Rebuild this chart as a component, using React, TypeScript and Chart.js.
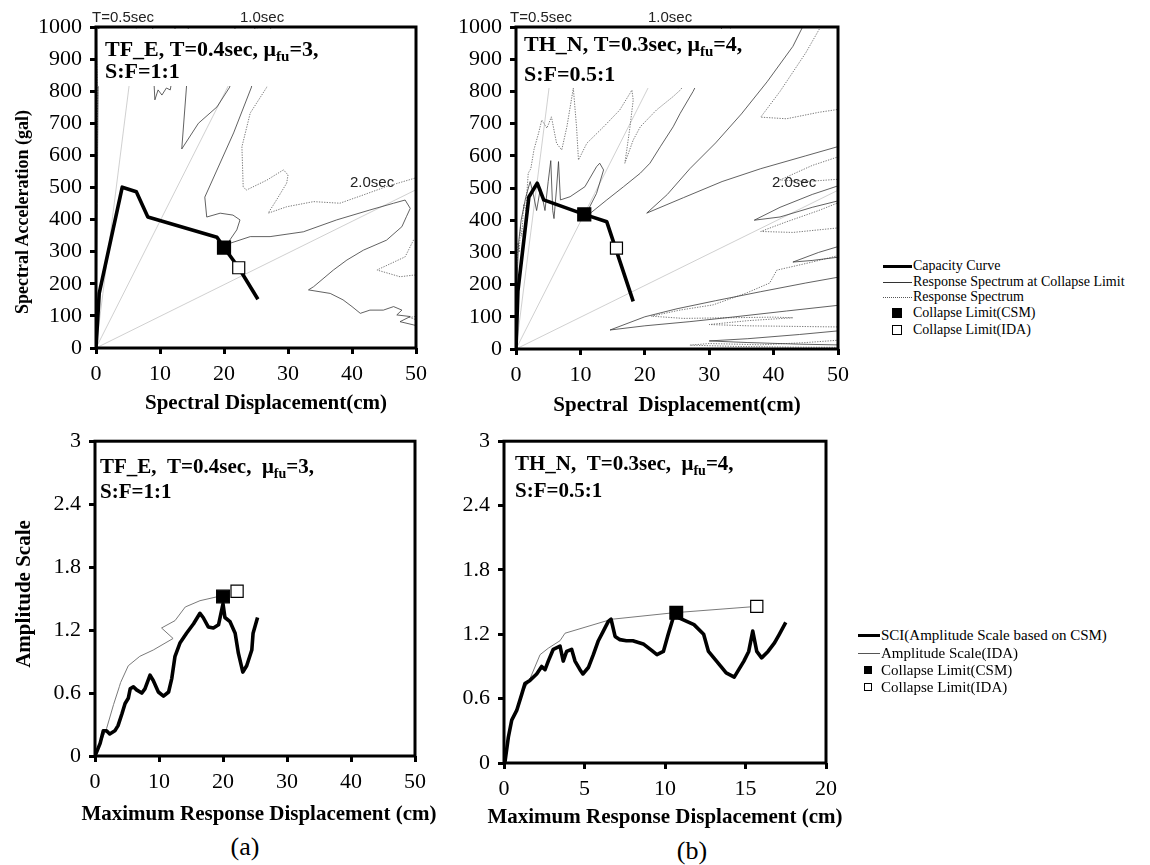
import React, { useEffect, useRef } from "react";
import { Chart, registerables } from "chart.js";
Chart.register(...registerables);

type Pt = [number, number];

// ---------------- tick labels ----------------
const xTicksTop = [0, 10, 20, 30, 40, 50];
const yTicksTop = [0, 100, 200, 300, 400, 500, 600, 700, 800, 900, 1000];
const xTicksBotA = [0, 10, 20, 30, 40, 50];
const xTicksBotB = [0, 5, 10, 15, 20];
const yTicksBot = [0, 0.6, 1.2, 1.8, 2.4, 3];
const yTickLabelsBot = ["0", "0.6", "1.2", "1.8", "2.4", "3"];

// ---------------- period reference lines (Sd cm, Sa gal) ----------------
const periodT05: Pt[] = [[0, 0], [6.33, 1000]];
const periodT10: Pt[] = [[0, 0], [25.3, 1000]];
const periodT20: Pt[] = [[0, 0], [50, 493]];

// ---------------- (a) TF_E  Sa-Sd ----------------
const capacityA: Pt[] = [[0, 0], [0.5, 170], [4.1, 501], [6.3, 487], [8.1, 408], [18.9, 345], [20.0, 313], [22.3, 250], [25.3, 152]];
const csmA: Pt[] = [[20.0, 313]];
const idaA: Pt[] = [[22.3, 250]];
const collapseSpecA: Pt[] = [
  [0.05, 150], [0.2, 450], [0.4, 1060], [8.8, 1060], [9.0, 850], [9.2, 773], [9.7, 804], [10.3, 788], [11.0, 810], [11.6, 804], [12.0, 850], [12.5, 1060],
  [14.5, 1060], [14.2, 830], [13.4, 620], [16.0, 700], [18.9, 751], [20.9, 813], [22, 1060], [25, 1060], [24.3, 813], [21.5, 670], [17.0, 470], [17.3, 408],
  [19.4, 420], [21.4, 414], [22.5, 399], [22.0, 368], [20.9, 336], [20.9, 326], [24.1, 347], [27.2, 347], [32.4, 362], [37.6, 399], [42.8, 430], [46.5, 451],
  [48.3, 461], [49.1, 435], [48.5, 409], [47.8, 378], [45.4, 336], [41.8, 305], [39.2, 274], [37.1, 243], [34.0, 191], [33.2, 181], [36.6, 170], [38.6, 150],
  [40.0, 129], [41.3, 108], [42.8, 118], [44.9, 118], [46.5, 129], [47.8, 118], [47.0, 103], [49.1, 98], [47.5, 82], [49.6, 72], [52, 60],
];
const responseSpecA: Pt[] = [
  [0.15, 590], [0.3, 850], [0.6, 1060], [27.5, 1060], [26.7, 813], [24.1, 732], [22.8, 627], [23.0, 502], [23.5, 492], [26.7, 523], [29.3, 555], [30.0, 539],
  [29.8, 514], [28.2, 461], [26.9, 420], [29.8, 440], [34.0, 456], [38.1, 451], [41.8, 477], [45.4, 503], [49.8, 529], [52, 540], [52, 345], [49.6, 336],
  [48.3, 284], [43.9, 243], [47.5, 222], [49.6, 227], [52, 228], [52, 105], [49, 95], [50.5, 85], [52, 84],
];

// ---------------- (b) TH_N  Sa-Sd ----------------
const capacityB: Pt[] = [[0, 0], [0.3, 180], [2.0, 472], [3.3, 515], [4.3, 463], [10.6, 418], [14.1, 395], [18.2, 148]];
const csmB: Pt[] = [[10.6, 418]];
const idaB: Pt[] = [[15.6, 313]];
const collapseSpecB: Pt[] = [
  [0.1, 180], [0.4, 330], [0.8, 400], [1.5, 470], [2.2, 520], [2.7, 480], [3.2, 430], [3.8, 500], [4.5, 430], [5.0, 520], [5.4, 585], [5.7, 430], [5.9, 405],
  [6.3, 500], [6.6, 582], [6.9, 463], [8.4, 473], [10.7, 504], [12.5, 566], [13.0, 577], [13.6, 556], [12.5, 483], [11.2, 432], [10.6, 418], [11.5, 421],
  [14.1, 463], [16.7, 504], [19.3, 546], [20.8, 577], [22.4, 628], [24.4, 690], [25.5, 732], [27.5, 800], [30, 900], [32, 1000], [33, 1060],
  [46, 1060], [43, 940], [39, 830], [35, 730], [31, 640], [27, 560], [23.5, 480], [20.3, 422], [26, 470], [32, 520], [38, 560], [45, 600], [52, 640],
  [52, 520], [46, 480], [41, 440], [37, 400], [41, 410], [46, 440], [52, 470],
  [52, 330], [47, 300], [43, 270], [46, 275], [52, 290],
  [52, 230], [45, 205], [38, 178], [31, 150], [25, 125], [20, 100], [14.6, 59], [20, 72], [27, 85], [34, 100], [42, 118], [52, 140],
  [52, 60], [44, 45], [36, 32], [30, 25], [36, 20], [44, 15], [52, 12],
];
const responseSpecB: Pt[] = [
  [0.1, 250], [0.3, 330], [0.5, 300], [0.7, 380], [0.9, 350], [1.2, 450], [1.5, 430], [1.9, 546], [2.3, 560], [2.8, 620], [3.5, 670], [4.0, 711], [4.8, 686],
  [5.5, 721], [6.3, 639], [7.1, 618], [7.9, 690], [8.9, 810], [9.4, 690], [9.7, 587], [11.0, 639], [13.6, 690], [16.1, 742], [18.0, 804], [18.2, 773],
  [17.7, 690], [17.2, 618], [16.9, 577], [18.2, 649], [19.3, 690], [21.8, 742], [24.4, 784], [25.5, 804], [28, 870], [31, 950], [33.5, 1000], [34.5, 1060],
  [49, 1060], [45, 920], [41, 800], [38, 720], [42, 715], [47, 735], [52, 750],
  [52, 610], [46, 570], [41, 525], [45, 520], [52, 530],
  [52, 470], [47, 430], [42, 395], [38, 365], [43, 362], [48, 372], [52, 380],
  [52, 300], [46, 270], [40.5, 245], [39.4, 205], [35.8, 174], [30.6, 137], [25.5, 121], [21, 102], [26, 95], [33, 97], [40, 99], [43, 97], [36, 88],
  [30, 76], [36, 72], [44, 70], [52, 68],
  [52, 30], [45, 20], [38, 13], [30, 17], [27, 12], [34, 8], [42, 6], [52, 5],
];

// ---------------- (a) amplitude scale ----------------
const sciA: Pt[] = [
  [0, 0], [0.8, 0.12], [1.3, 0.24], [1.8, 0.24], [2.3, 0.21], [3.1, 0.24], [3.6, 0.29], [4.2, 0.4], [4.7, 0.5], [5.2, 0.55], [5.5, 0.64], [6.0, 0.66],
  [6.5, 0.63], [7.3, 0.6], [7.8, 0.64], [8.6, 0.77], [9.1, 0.72], [9.9, 0.61], [10.7, 0.57], [11.5, 0.61], [12.0, 0.74], [12.5, 0.95], [13.3, 1.08],
  [14.3, 1.17], [15.4, 1.26], [16.4, 1.36], [16.9, 1.32], [17.7, 1.23], [18.5, 1.22], [19.3, 1.25], [20.0, 1.45], [20.3, 1.32], [21.1, 1.28], [21.9, 1.17],
  [22.4, 0.98], [23.1, 0.8], [23.7, 0.86], [24.5, 1.01], [24.7, 1.17], [25.4, 1.32],
];
const idaLineA: Pt[] = [
  [0, 0], [1.8, 0.26], [2.9, 0.49], [3.8, 0.66], [4.0, 0.7], [5.2, 0.86], [7.0, 0.95], [9.1, 1.01], [12.2, 1.12], [10.4, 1.22], [12.5, 1.29], [14.1, 1.42],
  [16.4, 1.48], [20.0, 1.53],
];
const csmBotA: Pt[] = [[20.0, 1.52]];
const idaBotA: Pt[] = [[22.2, 1.57]];

// ---------------- (b) amplitude scale ----------------
const sciB: Pt[] = [
  [0, 0], [0.06, 0.01], [0.27, 0.24], [0.48, 0.4], [0.79, 0.49], [1.1, 0.64], [1.3, 0.74], [1.61, 0.77], [2.03, 0.83], [2.34, 0.9], [2.55, 0.87], [2.75, 0.95],
  [3.06, 1.06], [3.48, 1.09], [3.68, 0.95], [3.89, 1.04], [4.2, 1.06], [4.41, 0.95], [4.72, 0.87], [4.9, 0.83], [5.24, 0.89], [5.55, 1.01], [5.86, 1.14],
  [6.17, 1.23], [6.48, 1.32], [6.65, 1.34], [6.9, 1.18], [7.2, 1.15], [7.6, 1.14], [8.0, 1.14], [8.65, 1.11], [9.17, 1.05], [9.5, 1.01], [9.9, 1.04],
  [10.2, 1.2], [10.5, 1.35], [10.7, 1.4], [10.9, 1.35], [11.8, 1.29], [12.4, 1.2], [12.7, 1.04], [13.2, 0.95], [13.8, 0.84], [14.3, 0.8], [14.9, 0.95],
  [15.2, 1.04], [15.45, 1.23], [15.7, 1.04], [16.0, 0.98], [16.4, 1.04], [16.8, 1.12], [17.1, 1.2], [17.5, 1.31],
];
const idaLineB: Pt[] = [
  [0, 0], [0.5, 0.4], [1.2, 0.67], [1.6, 0.78], [2.24, 1.01], [2.75, 1.07], [3.48, 1.14], [3.79, 1.21], [6.69, 1.34], [10.5, 1.4], [15.7, 1.46],
];
const csmBotB: Pt[] = [[10.7, 1.4]];
const idaBotB: Pt[] = [[15.7, 1.46]];

// ---------------- styling helpers ----------------
const SERIF = '"Liberation Serif", "Times New Roman", serif';
const SANS = '"Liberation Sans", Arial, sans-serif';
const toXY = (a: Pt[]) => a.map(([x, y]) => ({ x, y }));

function lineDs(data: Pt[], color: string, width: number, dash: number[] = []) {
  return {
    data: toXY(data), showLine: true, borderColor: color, borderWidth: width, borderDash: dash,
    pointRadius: 0, pointHoverRadius: 0, fill: false, tension: 0, borderCapStyle: "butt", borderJoinStyle: "round",
  };
}
function markerDs(data: Pt[], filled: boolean, r: number) {
  return {
    data: toXY(data), showLine: false, pointStyle: "rect", pointRadius: r, pointHoverRadius: r,
    backgroundColor: filled ? "#000" : "#fff", borderColor: "#000", borderWidth: 1.2,
  };
}

type Seg = [string, boolean];
function drawRich(ctx: CanvasRenderingContext2D, x: number, y: number, segs: Seg[], size: number) {
  let cx = x;
  ctx.fillStyle = "#000";
  ctx.textBaseline = "alphabetic";
  ctx.textAlign = "left";
  for (const [t, sub] of segs) {
    const s = sub ? Math.round(size * 0.66) : size;
    ctx.font = `bold ${s}px ${SERIF}`;
    ctx.fillText(t, cx, sub ? y + size * 0.22 : y);
    cx += ctx.measureText(t).width;
  }
}

interface PanelOpts {
  datasets: any[];
  xMax: number;
  xTicks: number[];
  yMax: number;
  yTicks: number[];
  yLabels: string[];
  padTop: number;
  padRight: number;
  yWidth: number;
  xHeight: number;
  box?: [number, number, number, number];
  lines: { x: number; y: number; segs: Seg[]; size: number }[];
  periodLabels?: [string, number, number][];
}

function makeConfig(o: PanelOpts): any {
  const deco = {
    id: "deco",
    afterDatasetsDraw(chart: any) {
      const ctx = chart.ctx as CanvasRenderingContext2D;
      ctx.save();
      if (o.box) {
        const [x0, y0, x1, y1] = o.box;
        ctx.fillStyle = "#fff";
        ctx.fillRect(x0, y0, x1 - x0, y1 - y0);
      }
      for (const l of o.lines) drawRich(ctx, l.x, l.y, l.segs, l.size);
      if (o.periodLabels) {
        ctx.font = `15px ${SANS}`;
        ctx.fillStyle = "#222";
        ctx.textBaseline = "middle";
        ctx.textAlign = "left";
        for (const [t, x, y] of o.periodLabels) ctx.fillText(t, x, y);
      }
      ctx.restore();
    },
    afterDraw(chart: any) {
      const { left, top, right, bottom } = chart.chartArea;
      const ctx = chart.ctx as CanvasRenderingContext2D;
      ctx.save();
      ctx.strokeStyle = "#000";
      ctx.lineWidth = 3;
      ctx.strokeRect(left, top, right - left, bottom - top);
      ctx.restore();
    },
  };
  const tickFont = { family: SERIF, size: 22 };
  const grid = { display: true, drawOnChartArea: false, drawTicks: true, tickLength: 6, lineWidth: 3, color: "#000" };
  return {
    type: "scatter",
    data: { datasets: o.datasets },
    options: {
      animation: false,
      responsive: false,
      devicePixelRatio: 1,
      events: [],
      layout: { padding: { left: 0, top: o.padTop, right: o.padRight, bottom: 0 }, autoPadding: false },
      plugins: { legend: { display: false }, tooltip: { enabled: false }, title: { display: false } },
      scales: {
        x: {
          type: "linear", min: 0, max: o.xMax,
          afterBuildTicks: (s: any) => { s.ticks = o.xTicks.map((v) => ({ value: v })); },
          afterFit: (s: any) => { s.height = o.xHeight; },
          ticks: { font: tickFont, color: "#000", padding: 7, maxRotation: 0, minRotation: 0, autoSkip: false, callback: (v: any) => String(v) },
          grid, border: { display: false },
        },
        y: {
          type: "linear", min: 0, max: o.yMax,
          afterBuildTicks: (s: any) => { s.ticks = o.yTicks.map((v) => ({ value: v })); },
          afterFit: (s: any) => { s.width = o.yWidth; },
          ticks: { font: tickFont, color: "#000", padding: 8, autoSkip: false, callback: (_v: any, i: number) => o.yLabels[i] },
          grid, border: { display: false },
        },
      },
    },
    plugins: [deco],
  };
}

const SPEC_SOLID = "#3a3a3a";
const SPEC_DOT = "#6a6a6a";
const PERIOD = "#c4c4c4";

function topDatasets(cap: Pt[], csm: Pt[], ida: Pt[], coll: Pt[], resp: Pt[]) {
  return [
    markerDs(csm, true, 9.2),
    markerDs(ida, false, 8.5),
    lineDs(cap, "#000", 3.6),
    lineDs(coll, SPEC_SOLID, 0.8),
    lineDs(resp, SPEC_DOT, 0.9, [1.3, 1.3]),
    lineDs(periodT05, PERIOD, 0.8),
    lineDs(periodT10, PERIOD, 0.8),
    lineDs(periodT20, PERIOD, 0.8),
  ];
}
function botDatasets(sci: Pt[], ida: Pt[], csmM: Pt[], idaM: Pt[]) {
  return [
    markerDs(csmM, true, 9),
    markerDs(idaM, false, 8.6),
    lineDs(sci, "#000", 3.6),
    lineDs(ida, "#7a7a7a", 1),
  ];
}

const yLabelsTop = yTicksTop.map((v) => String(v));

const abs = (extra: React.CSSProperties): React.CSSProperties => ({ position: "absolute", whiteSpace: "pre", lineHeight: 1, ...extra });

function Center({ x, y, size, bold, rot, children }: any) {
  return (
    <div style={abs({ left: x, top: y, transform: `translate(-50%,-50%)${rot ? " rotate(-90deg)" : ""}`, font: `${bold ? "bold " : ""}${size}px ${SERIF}`, color: "#000" })}>
      {children}
    </div>
  );
}

export default function App() {
  const rTA = useRef<HTMLCanvasElement>(null);
  const rTB = useRef<HTMLCanvasElement>(null);
  const rBA = useRef<HTMLCanvasElement>(null);
  const rBB = useRef<HTMLCanvasElement>(null);

  useEffect(() => {
    const charts = [
      new Chart(rTA.current!, makeConfig({
        datasets: topDatasets(capacityA, csmA, idaA, collapseSpecA, responseSpecA),
        xMax: 50, xTicks: xTicksTop, yMax: 1000, yTicks: yTicksTop, yLabels: yLabelsTop,
        padTop: 27, padRight: 24, yWidth: 96, xHeight: 44,
        box: [98, 29, 414, 86],
        lines: [
          { x: 105, y: 56, size: 22, segs: [["TF_E, T=0.4sec, μ", false], ["fu", true], ["=3,", false]] },
          { x: 105, y: 78, size: 22, segs: [["S:F=1:1", false]] },
        ],
        periodLabels: [["T=0.5sec", 92, 18], ["1.0sec", 240, 18], ["2.0sec", 350, 183]],
      })),
      new Chart(rTB.current!, makeConfig({
        datasets: topDatasets(capacityB, csmB, idaB, collapseSpecB, responseSpecB),
        xMax: 50, xTicks: xTicksTop, yMax: 1000, yTicks: yTicksTop, yLabels: yLabelsTop,
        padTop: 27, padRight: 42, yWidth: 76, xHeight: 43,
        box: [78, 29, 300, 88],
        lines: [
          { x: 84, y: 51, size: 22, segs: [["TH_N, T=0.3sec, μ", false], ["fu", true], ["=4,", false]] },
          { x: 84, y: 81, size: 22, segs: [["S:F=0.5:1", false]] },
        ],
        periodLabels: [["T=0.5sec", 70, 18], ["1.0sec", 208, 18], ["2.0sec", 332, 183]],
      })),
      new Chart(rBA.current!, makeConfig({
        datasets: botDatasets(sciA, idaLineA, csmBotA, idaBotA),
        xMax: 50, xTicks: xTicksBotA, yMax: 3, yTicks: yTicksBot, yLabels: yTickLabelsBot,
        padTop: 13, padRight: 25, yWidth: 95, xHeight: 54,
        lines: [
          { x: 100, y: 53, size: 21, segs: [["TF_E,  T=0.4sec,  μ", false], ["fu", true], ["=3,", false]] },
          { x: 100, y: 78, size: 21, segs: [["S:F=1:1", false]] },
        ],
      })),
      new Chart(rBB.current!, makeConfig({
        datasets: botDatasets(sciB, idaLineB, csmBotB, idaBotB),
        xMax: 20, xTicks: xTicksBotB, yMax: 3, yTicks: yTicksBot, yLabels: yTickLabelsBot,
        padTop: 18, padRight: 54, yWidth: 64, xHeight: 47,
        lines: [
          { x: 75, y: 50, size: 21, segs: [["TH_N,  T=0.3sec,  μ", false], ["fu", true], ["=4,", false]] },
          { x: 75, y: 77, size: 21, segs: [["S:F=0.5:1", false]] },
        ],
      })),
    ];
    return () => charts.forEach((c) => c.destroy());
  }, []);

  const legendText = (x: number, y: number, size: number, t: string) => (
    <div style={abs({ left: x, top: y, transform: "translateY(-50%)", font: `${size}px ${SERIF}`, color: "#000" })}>{t}</div>
  );

  return (
    <div style={{ position: "absolute", left: 0, top: 0, width: 1150, height: 865, background: "#fff", overflow: "hidden" }}>
      <canvas ref={rTA} width={440} height={392} style={{ position: "absolute", left: 0, top: 0 }} />
      <canvas ref={rTB} width={440} height={392} style={{ position: "absolute", left: 440, top: 0 }} />
      <canvas ref={rBA} width={440} height={390} style={{ position: "absolute", left: 0, top: 420 }} />
      <canvas ref={rBB} width={440} height={390} style={{ position: "absolute", left: 440, top: 420 }} />

      <Center x={22} y={212} size={18} bold rot>Spectral Acceleration (gal)</Center>
      <Center x={266} y={402} size={21} bold>Spectral Displacement(cm)</Center>
      <Center x={677} y={404} size={21} bold>{"Spectral  Displacement(cm)"}</Center>
      <Center x={23} y={594} size={21} bold rot>Amplitude Scale</Center>
      <Center x={259} y={813} size={21} bold>Maximum Response Displacement (cm)</Center>
      <Center x={665} y={816} size={21} bold>Maximum Response Displacement (cm)</Center>
      <Center x={245} y={847} size={26}>(a)</Center>
      <Center x={692} y={851} size={26}>(b)</Center>

      {/* top legend */}
      <div style={abs({ left: 883, top: 264.5, width: 29, height: 3, background: "#000" })} />
      <div style={abs({ left: 883, top: 282, width: 29, height: 0, borderTop: "1px solid #333" })} />
      <div style={abs({ left: 883, top: 297, width: 29, height: 0, borderTop: "1px dotted #555" })} />
      <div style={abs({ left: 892, top: 308, width: 10, height: 10, background: "#000" })} />
      <div style={abs({ left: 892, top: 325, width: 10, height: 10, background: "#fff", border: "1px solid #000", boxSizing: "border-box" })} />
      {legendText(913, 266, 14, "Capacity Curve")}
      {legendText(913, 282, 14, "Response Spectrum at Collapse Limit")}
      {legendText(913, 297, 14, "Response Spectrum")}
      {legendText(913, 313, 14, "Collapse Limit(CSM)")}
      {legendText(913, 330, 14, "Collapse Limit(IDA)")}

      {/* bottom legend */}
      <div style={abs({ left: 858, top: 633.5, width: 22, height: 3, background: "#000" })} />
      <div style={abs({ left: 858, top: 653, width: 22, height: 0, borderTop: "1px solid #555" })} />
      <div style={abs({ left: 864, top: 666, width: 8, height: 8, background: "#000" })} />
      <div style={abs({ left: 864, top: 683, width: 8, height: 8, background: "#fff", border: "1px solid #000", boxSizing: "border-box" })} />
      {legendText(881, 635, 15, "SCI(Amplitude Scale based on CSM)")}
      {legendText(881, 653, 15, "Amplitude Scale(IDA)")}
      {legendText(881, 670, 15, "Collapse Limit(CSM)")}
      {legendText(881, 687, 15, "Collapse Limit(IDA)")}
    </div>
  );
}
